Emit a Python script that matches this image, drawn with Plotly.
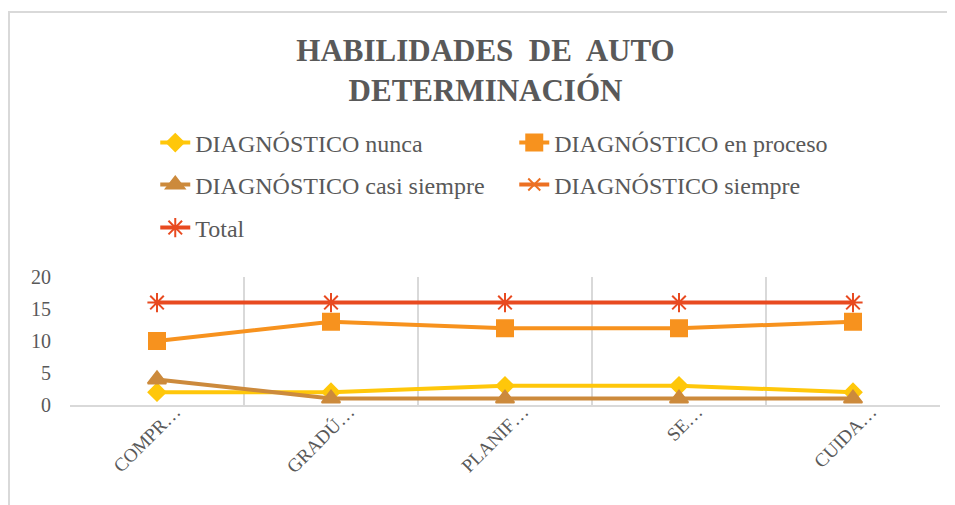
import plotly.graph_objects as go

categorias = ["COMPR…", "GRADÚ…", "PLANIF…", "SE…", "CUIDA…"]
nunca = [2, 2, 3, 3, 2]
en_proceso = [10, 13, 12, 12, 13]
casi_siempre = [4, 1, 1, 1, 1]
siempre = [None, None, None, None, None]
total = [16, 16, 16, 16, 16]

FONT = "Liberation Serif, Times New Roman, serif"
GRIS = "#595959"

series = [
    ("DIAGNÓSTICO nunca", nunca, "#FFC70A", "diamond", 13, "legend"),
    ("DIAGNÓSTICO en proceso", en_proceso, "#F7921E", "square", 16, "legend"),
    ("DIAGNÓSTICO casi siempre", casi_siempre, "#CC8A3C", "triangle-up", 16, "legend2"),
    ("DIAGNÓSTICO siempre", siempre, "#EC7022", "x-thin-open", 12, "legend2"),
    ("Total", total, "#E84A20", "asterisk-open", 16, "legend3"),
]

fig = go.Figure()
for nombre, valores, color, simbolo, tam, ley in series:
    fig.add_scatter(
        x=categorias, y=valores, name=nombre, mode="lines+markers", legend=ley,
        line=dict(color=color, width=4),
        marker=dict(symbol=simbolo, size=tam, color=color, line=dict(color=color, width=2)),
    )

def leyenda(y):
    return dict(
        orientation="h", x=0.098, xanchor="left", y=y, yanchor="middle",
        entrywidth=314, font=dict(family=FONT, size=24, color=GRIS),
        bgcolor="rgba(0,0,0,0)",
    )

# the page adds an 8px body margin, so everything is nudged up/left by 8px
fig.update_layout(
    width=955, height=505,
    margin=dict(l=62, r=23, t=269, b=108, autoexpand=False),
    paper_bgcolor="white", plot_bgcolor="white",
    font=dict(family=FONT, color=GRIS),
    title=dict(
        text="<b>HABILIDADES  DE  AUTO<br>DETERMINACIÓN</b>",
        x=0.5, xanchor="center", y=0.895, yanchor="top",
        font=dict(family=FONT, size=31, color=GRIS),
    ),
    legend=leyenda(2.047),
    legend2=leyenda(1.719),
    legend3=leyenda(1.383),
    showlegend=True,
)
fig.update_xaxes(
    type="category", range=[-0.5, 4.5], tickson="boundaries",
    showgrid=True, gridcolor="#D9D9D9", gridwidth=2,
    showline=True, linecolor="#D9D9D9", linewidth=2, ticks="",
    tickangle=-45, ticklabelstandoff=-14, ticklabelshift=18,
    tickfont=dict(family=FONT, size=19, color=GRIS),
)
fig.update_yaxes(
    range=[0, 20], dtick=5, showgrid=False, zeroline=False, showline=False,
    ticks="", ticklabelstandoff=18, tickfont=dict(family=FONT, size=20, color=GRIS),
)
fig.add_shape(
    type="rect", xref="paper", yref="paper",
    x0=-61 / 870, x1=1.1, y0=-0.9, y1=393 / 128,
    line=dict(color="#D9D9D9", width=2), fillcolor="rgba(0,0,0,0)", layer="below",
)

fig.write_html("out.html")
